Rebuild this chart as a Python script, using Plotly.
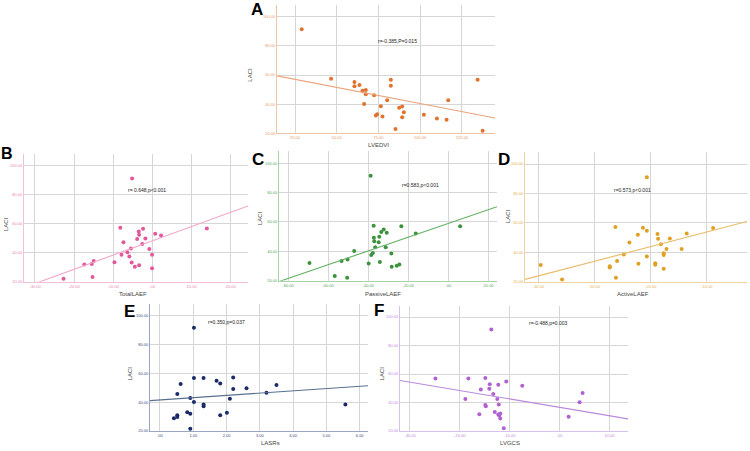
import plotly.graph_objects as go

# ---------------- data ----------------
A_x = [29, 46.6, 60.6, 60.6, 63.6, 65.4, 67.4, 67.4, 66.4, 72.4, 73.4, 74.2, 76.4, 77.4,
       80.2, 82.4, 82.4, 85.2, 87.4, 89.2, 89.2, 90.2, 102.2, 110, 115.8, 116.8, 134.4, 137.4]
A_y = [91.4, 57.5, 55.2, 52.3, 53.2, 49.3, 49.8, 46.8, 40.2, 46.1, 32.3, 33.2, 38.6, 31.6,
       42.7, 56.8, 52.7, 23.0, 37.5, 38.4, 31.1, 34.5, 32.7, 30.2, 29.3, 42.7, 56.8, 21.8]

B_x = [-22.7, -17.4, -15.5, -15.0, -15.3, -9.7, -8.2, -7.4, -7.9, -6.4, -5.9, -5.5, -5.3, -5.2,
       -4.5, -3.9, -3.5, -3.4, -3.4, -2.6, -2.4, -1.8, -0.8, -0.1, -0.1, 0.7, 2.2, 13.9]
B_y = [22.1, 31.9, 32.3, 34.4, 23.2, 33.5, 57.3, 47.2, 38.7, 40.3, 37.4, 42.9, 33.3, 91.3,
       30.3, 49.5, 54.7, 52.5, 31.4, 46.1, 56.6, 49.9, 42.6, 38.7, 29.4, 53.1, 52.0, 56.8]

C_x = [-69.3, -56.7, -53.3, -50.3, -50.5, -47.0, -39.8, -38.8, -38.5, -37.7, -37.3, -37.2, -37.0, -36.5,
       -34.8, -34.5, -34.2, -33.5, -32.3, -30.8, -31.3, -28.5, -28.3, -25.8, -24.5, -23.5, -16.3, 5.8]
C_y = [32.0, 23.2, 33.4, 34.5, 22.0, 40.2, 31.8, 91.4, 37.5, 38.8, 57.4, 49.3, 46.8, 42.7,
       46.1, 49.9, 32.7, 53.1, 54.9, 52.7, 42.7, 38.6, 29.5, 30.2, 31.1, 57.0, 52.2, 57.0]

D_x = [-39.6, -35.8, -27.3, -27.3, -26.3, -26.0, -26.2, -24.8, -23.8, -22.3, -22.2, -21.4, -20.7, -20.7,
       -20.7, -19.2, -19.2, -18.8, -18.7, -18.2, -17.7, -17.7, -17.7, -17.2, -16.6, -14.5, -13.6, -8.9]
D_y = [31.4, 21.6, 30.5, 29.6, 57.2, 34.1, 22.7, 38.5, 46.7, 51.9, 32.3, 56.7, 91.1, 54.6,
       37.1, 32.5, 31.6, 52.4, 49.2, 45.5, 39.4, 38.2, 28.9, 42.3, 49.4, 42.3, 52.8, 56.5]

E_x = [0.42, 0.52, 0.52, 0.52, 0.62, 0.82, 0.91, 0.91, 0.91, 1.02, 1.02, 1.02, 1.31,
       1.31, 1.31, 1.70, 1.81, 1.81, 2.01, 2.10, 2.20, 2.20, 2.60, 3.20, 3.50, 5.57]
E_y = [28.9, 31.0, 29.8, 45.6, 52.5, 33.0, 31.9, 42.9, 21.6, 91.3, 56.6, 40.1, 56.6,
       38.3, 37.1, 54.7, 52.9, 31.0, 32.6, 42.4, 57.0, 49.0, 49.5, 46.5, 51.8, 38.3]

F_x = [-24.9, -18.9, -18.3, -16.1, -15.8, -14.9, -14.9, -14.8, -14.1, -14.0, -13.7, -13.3, -13.0,
       -12.5, -12.3, -12.3, -12.2, -12.1, -11.9, -11.9, -11.2, -10.7, -7.5, 1.8, 4.0, 4.6]
F_y = [56.9, 42.5, 56.9, 31.8, 49.2, 57.3, 38.3, 37.4, 49.7, 52.9, 91.2, 46.0, 33.4,
       42.5, 52.5, 31.6, 38.6, 30.9, 32.3, 28.8, 21.9, 54.8, 51.8, 30.0, 40.2, 46.7]

# fitted line (intercept, slope)
fit_intercepts = [62.6, 48.3, 59.0, 63.8, 41.5, 36.65]
fit_slopes = [-0.221, 0.985, 0.468, 0.995, 1.57, -0.589]

panel_letters = ["A", "B", "C", "D", "E", "F"]
x_titles = ["LVEDVI", "TotalLAEF", "PassiveLAEF", "ActiveLAEF", "LASRs", "LVGCS"]
y_title = "LACI"
stat_texts = ["r=-0.385,P=0.015", "r= 0.648,p<0.001", "r=0.583,p<0.001",
              "r=0.573,p<0.001", "r=0.350,p=0.037", "r=-0.488,p=0.003"]

y_tick_vals = [20, 40, 60, 80, 100]
y_tick_text = ["20.00", "40.00", "60.00", "80.00", "100.00"]
x_tick_vals = [
    [25, 50, 75, 100, 125],
    [-30, -20, -10, 0, 10, 20],
    [-80, -60, -40, -20, 0, 20],
    [-40, -30, -20, -10],
    [0, 1, 2, 3, 4, 5, 6],
    [-30, -20, -10, 0, 10],
]
x_tick_text = [
    ["25.00", "50.00", "75.00", "100.00", "125.00"],
    ["-30.00", "-20.00", "-10.00", ".00", "10.00", "20.00"],
    ["-80.00", "-60.00", "-40.00", "-20.00", ".00", "20.00"],
    ["-40.00", "-30.00", "-20.00", "-10.00"],
    [".00", "1.00", "2.00", "3.00", "4.00", "5.00", "6.00"],
    ["-30.00", "-20.00", "-10.00", ".00", "10.00"],
]

xs = [A_x, B_x, C_x, D_x, E_x, F_x]
ys = [A_y, B_y, C_y, D_y, E_y, F_y]

# ---------------- styling / layout ----------------
W, H = 750, 451
x_ranges = [[14.2, 144.8], [-32.8, 24.4], [-84.5, 24.2], [-42.4, -2.86], [-0.3, 6.25], [-32.0, 13.7]]
y_range = [20, 108]
# plot boxes in pixels: left, right, top, bottom
boxes = [(277, 495, 5, 134), (24, 248, 155, 283), (279, 497, 152, 282),
         (525, 747, 153, 283), (150, 368, 305, 433), (400, 628, 307, 433)]
marker_colors = ["#e0732f", "#e2589a", "#3d923d", "#e0a024", "#1b2a68", "#b062d2"]
line_colors = ["#eaa57c", "#f2a6c8", "#62b062", "#e9bb66", "#58708e", "#b98ada"]
tick_colors = ["#e89a68", "#e884b2", "#5aa85a", "#e4b054", "#3a4a80", "#c08ade"]
axis_line_colors = ["#f0c4a4", "#f4c0d8", "#a8d4a8", "#f0d49c", "#9aa6c0", "#dcc0ec"]
letter_pos = [(257, 10), (7, 154), (258, 160), (504, 160), (129, 313), (379, 312)]
letter_sizes = [17, 16, 17, 17, 17, 17]
stat_pos = [(397, 41), (147, 191), (420, 186), (632, 191), (227, 323), (548, 324)]
xtitle_pos = [(378, 146), (133, 295), (383, 295), (633, 295), (270, 445), (510, 445)]
ytitle_pos = [(250, 75), (6, 225), (260, 219), (508, 217), (130, 375), (382, 375)]

fig = go.Figure()
layout = dict(width=W, height=H, margin=dict(l=0, r=0, t=0, b=0),
              paper_bgcolor="white", plot_bgcolor="white", showlegend=False)
annotations = []


def px(x):
    return x / W


def py(y):
    return 1 - y / H


for i in range(6):
    sfx = "" if i == 0 else str(i + 1)
    xa, ya = "x" + sfx, "y" + sfx
    l, r, t, b = boxes[i]
    fig.add_trace(go.Scatter(x=xs[i], y=ys[i], mode="markers", xaxis=xa, yaxis=ya,
                             marker=dict(size=4, color=marker_colors[i], line=dict(width=0)),
                             cliponaxis=False))
    x0, x1 = x_ranges[i]
    fig.add_trace(go.Scatter(x=[x0, x1],
                             y=[fit_intercepts[i] + fit_slopes[i] * x0, fit_intercepts[i] + fit_slopes[i] * x1],
                             mode="lines", xaxis=xa, yaxis=ya,
                             line=dict(color=line_colors[i], width=1.1)))
    layout["xaxis" + sfx] = dict(domain=[px(l), px(r)], range=x_ranges[i], anchor=ya,
                                 tickvals=x_tick_vals[i], ticktext=x_tick_text[i],
                                 tickfont=dict(size=4, color=tick_colors[i], family="Arial"),
                                 showgrid=True, gridcolor="#d6d6d6", gridwidth=1,
                                 showline=True, linecolor=axis_line_colors[i], linewidth=1,
                                 zeroline=False, ticks="", fixedrange=True)
    layout["yaxis" + sfx] = dict(domain=[py(b), py(t)], range=y_range, anchor=xa,
                                 tickvals=y_tick_vals, ticktext=y_tick_text,
                                 tickfont=dict(size=4, color=tick_colors[i], family="Arial"),
                                 showgrid=True, gridcolor="#d6d6d6", gridwidth=1,
                                 showline=True, linecolor=axis_line_colors[i], linewidth=1,
                                 zeroline=False, ticks="", fixedrange=True)
    lx, ly = letter_pos[i]
    annotations.append(dict(x=px(lx), y=py(ly), xref="paper", yref="paper", text="<b>%s</b>" % panel_letters[i],
                            showarrow=False, font=dict(size=letter_sizes[i], color="black", family="Arial"),
                            xanchor="center", yanchor="middle"))
    sx, sy = stat_pos[i]
    annotations.append(dict(x=px(sx), y=py(sy), xref="paper", yref="paper", text=stat_texts[i],
                            showarrow=False, font=dict(size=5, color="#222222", family="Arial"),
                            xanchor="center", yanchor="middle"))
    tx, ty = xtitle_pos[i]
    annotations.append(dict(x=px(tx), y=py(ty), xref="paper", yref="paper", text=x_titles[i],
                            showarrow=False, font=dict(size=6, color="#444444", family="Arial"),
                            xanchor="center", yanchor="middle"))
    yx, yy = ytitle_pos[i]
    annotations.append(dict(x=px(yx), y=py(yy), xref="paper", yref="paper", text=y_title, textangle=-90,
                            showarrow=False, font=dict(size=6, color="#444444", family="Arial"),
                            xanchor="center", yanchor="middle"))

layout["annotations"] = annotations
fig.update_layout(**layout)
fig.write_html("out.html")
